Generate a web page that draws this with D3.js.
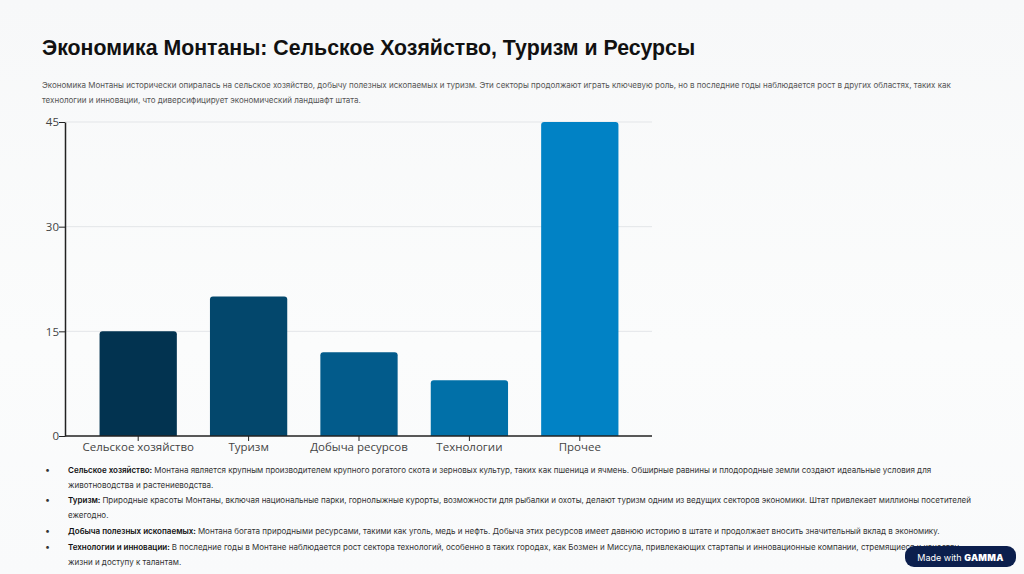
<!DOCTYPE html>
<html>
<head>
<meta charset="utf-8">
<script src="https://cdn.jsdelivr.net/npm/d3@7"></script>
<style>
  html, body { margin: 0; padding: 0; }
  body { width: 1024px; height: 574px; overflow: hidden; background: linear-gradient(180deg, #f7f8f9 0%, #fbfcfc 60%, #f9fafb 100%); }
  svg { display: block; }
</style>
</head>
<body>
<div id="chart"></div>
<script>
const categories = ["Сельское хозяйство", "Туризм", "Добыча ресурсов", "Технологии", "Прочее"];
const values = [15, 20, 12, 8, 45];
const barColors = ["#023350", "#03476c", "#025b8b", "#0170a8", "#0182c5"];
const yTicks = [0, 15, 30, 45];

const title = "Экономика Монтаны: Сельское Хозяйство, Туризм и Ресурсы";
const introLines = [
  "Экономика Монтаны исторически опиралась на сельское хозяйство, добычу полезных ископаемых и туризм. Эти секторы продолжают играть ключевую роль, но в последние годы наблюдается рост в других областях, таких как",
  "технологии и инновации, что диверсифицирует экономический ландшафт штата."
];
const bullets = [
  { head: "Сельское хозяйство:", lines: ["Монтана является крупным производителем крупного рогатого скота и зерновых культур, таких как пшеница и ячмень. Обширные равнины и плодородные земли создают идеальные условия для", "животноводства и растениеводства."] },
  { head: "Туризм:", lines: ["Природные красоты Монтаны, включая национальные парки, горнолыжные курорты, возможности для рыбалки и охоты, делают туризм одним из ведущих секторов экономики. Штат привлекает миллионы посетителей", "ежегодно."] },
  { head: "Добыча полезных ископаемых:", lines: ["Монтана богата природными ресурсами, такими как уголь, медь и нефть. Добыча этих ресурсов имеет давнюю историю в штате и продолжает вносить значительный вклад в экономику."] },
  { head: "Технологии и инновации:", lines: ["В последние годы в Монтане наблюдается рост сектора технологий, особенно в таких городах, как Бозмен и Миссула, привлекающих стартапы и инновационные компании, стремящиеся к качеству", "жизни и доступу к талантам."] }
];

const width = 1024, height = 574;
const svg = d3.select("#chart").append("svg")
  .attr("width", width)
  .attr("height", height);

// title and intro
svg.append("text")
  .attr("x", 42).attr("y", 55)
  .style("font-family", "'Liberation Sans', Arial, sans-serif")
  .style("font-size", "21.3px")
  .style("font-weight", "bold")
  .style("fill", "#111")
  .text(title);

svg.selectAll(".intro")
  .data(introLines)
  .enter().append("text")
  .attr("class", "intro")
  .attr("x", 42)
  .attr("y", (d, i) => 88 + i * 14.5)
  .style("font-family", "Inter, 'Liberation Sans', sans-serif")
  .style("font-size", "8px")
  .style("fill", "#555")
  .text(d => d);

// chart
const x = d3.scaleBand()
  .domain(categories)
  .range([83, 635])
  .paddingInner(0.3)
  .paddingOuter(0.15);

const y = d3.scaleLinear()
  .domain([0, 45])
  .range([436, 122]);

const g = svg.append("g");

g.selectAll(".grid")
  .data(yTicks.filter(t => t > 0))
  .enter().append("line")
  .attr("class", "grid")
  .attr("x1", 65).attr("x2", 652)
  .attr("y1", d => y(d)).attr("y2", d => y(d))
  .style("stroke", "#e3e5e8")
  .style("stroke-width", 1);

g.selectAll(".bar")
  .data(values)
  .enter().append("path")
  .attr("class", "bar")
  .attr("d", (d, i) => {
    const x0 = x(categories[i]), w = x.bandwidth(), y0 = y(d), y1 = y(0), r = 3;
    return `M${x0},${y1}V${y0 + r}Q${x0},${y0} ${x0 + r},${y0}H${x0 + w - r}Q${x0 + w},${y0} ${x0 + w},${y0 + r}V${y1}Z`;
  })
  .style("fill", (d, i) => barColors[i]);

const yAxis = g.append("g")
  .attr("transform", "translate(65,0)")
  .call(d3.axisLeft(y).tickValues(yTicks).tickSize(6).tickSizeOuter(0));
yAxis.select(".domain").style("stroke", "#222").style("stroke-width", 1.5);
yAxis.selectAll(".tick line").style("stroke", "#222");
yAxis.selectAll(".tick text")
  .attr("x", -6)
  .style("font-family", "'Open Sans', sans-serif")
  .style("font-size", "11.5px")
  .style("fill", "#444");

const xAxis = g.append("g")
  .attr("transform", "translate(0,436)")
  .call(d3.axisBottom(x).tickSize(5).tickSizeOuter(0));
xAxis.select(".domain").remove();
xAxis.append("line")
  .attr("x1", 65).attr("x2", 652)
  .style("stroke", "#222").style("stroke-width", 1.5);
xAxis.selectAll(".tick line").style("stroke", "#222");
xAxis.selectAll(".tick text")
  .attr("y", 7)
  .style("font-family", "'Open Sans', sans-serif")
  .style("font-size", "11.5px")
  .style("fill", "#444");

// bullets
const bulletTop = [473, 503, 534, 550];
bullets.forEach((b, i) => {
  svg.append("text")
    .attr("x", 45).attr("y", bulletTop[i])
    .style("font-family", "Inter, sans-serif")
    .style("font-size", "9px")
    .style("fill", "#333")
    .text("•");
  b.lines.forEach((line, j) => {
    const t = svg.append("text")
      .attr("x", 68).attr("y", bulletTop[i] + j * 14.5)
      .style("font-family", "Inter, 'Liberation Sans', sans-serif")
      .style("font-size", "8px")
      .style("fill", "#333");
    if (j === 0) {
      t.append("tspan").style("font-weight", "600").style("fill", "#111").text(b.head + " ");
    }
    t.append("tspan").text(line);
  });
});

// badge
const badge = svg.append("g").attr("transform", "translate(905,546)");
badge.append("rect")
  .attr("width", 111).attr("height", 21).attr("rx", 9)
  .style("fill", "#0c1f4d");
const bt = badge.append("text")
  .attr("x", 55.5).attr("y", 14.5)
  .attr("text-anchor", "middle")
  .style("font-family", "Inter, sans-serif")
  .style("font-size", "9px")
  .style("fill", "#fff");
bt.append("tspan").text("Made with ");
bt.append("tspan").style("font-weight", "900").style("letter-spacing", "0.3px").text("GAMMA");
</script>
</body>
</html>
